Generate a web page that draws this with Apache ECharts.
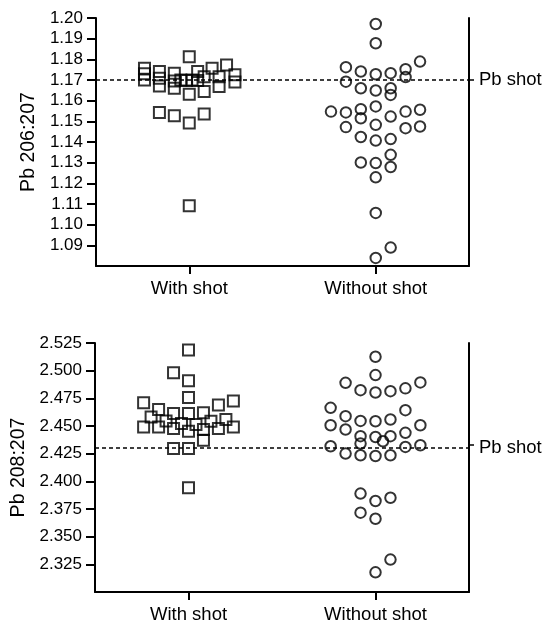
<!DOCTYPE html>
<html>
<head>
<meta charset="utf-8">
<script src="https://cdn.jsdelivr.net/npm/echarts@6/dist/echarts.min.js"></script>
<style>
html,body{margin:0;padding:0;background:#fff;}
#chart{width:555px;height:624px;}
</style>
</head>
<body>
<div id="chart"></div>
<script>
// Categories and their positions on the hidden value x-axis
var categories = ['With shot', 'Without shot'];
var categoryPos = [1, 3];

// Tick labels
var ticks206 = [1.09, 1.10, 1.11, 1.12, 1.13, 1.14, 1.15, 1.16, 1.17, 1.18, 1.19, 1.20];
var ticks208 = [2.325, 2.350, 2.375, 2.400, 2.425, 2.450, 2.475, 2.500, 2.525];

// Reference lines (Pb shot)
var pbShot206 = 1.170;
var pbShot208 = 2.433;

// Pb 206:207 - with shot: values and horizontal spread offsets
var with206 = [1.1757, 1.1730, 1.1700, 1.1741, 1.1708, 1.1671, 1.1733, 1.1695, 1.1660,
  1.1700, 1.1698, 1.1700, 1.1698, 1.1813, 1.1631, 1.1741, 1.1716, 1.1644, 1.1757,
  1.1716, 1.1668, 1.1773, 1.1725, 1.1690, 1.1543, 1.1527, 1.1492, 1.1536, 1.1092];
var with206X = [-0.48, -0.48, -0.48, -0.32, -0.32, -0.32, -0.16, -0.16, -0.16,
  -0.09, -0.03, 0.03, 0.09, 0, 0, 0.09, 0.16, 0.16, 0.245,
  0.32, 0.32, 0.40, 0.49, 0.49, -0.32, -0.16, 0, 0.16, 0];

// Pb 206:207 - without shot
var without206 = [1.1971, 1.1878, 1.1789, 1.1762, 1.1741, 1.1728, 1.1733, 1.1752, 1.1714,
  1.1692, 1.1660, 1.1649, 1.1660, 1.1628, 1.1547, 1.1543, 1.1559, 1.1515, 1.1572,
  1.1523, 1.1547, 1.1556, 1.1472, 1.1483, 1.1467, 1.1475, 1.1424, 1.1407, 1.1414,
  1.1338, 1.1301, 1.1298, 1.1279, 1.1229, 1.1057, 1.0889, 1.0839];
var without206X = [0, 0, 0.475, -0.32, -0.16, 0, 0.16, 0.32, 0.32,
  -0.32, -0.16, 0, 0.16, 0.16, -0.48, -0.32, -0.16, -0.16, 0,
  0.16, 0.32, 0.475, -0.32, 0, 0.32, 0.475, -0.16, 0, 0.16,
  0.16, -0.16, 0, 0.16, 0, 0, 0.16, 0];

// Pb 208:207 - with shot
var with208 = [2.5187, 2.4981, 2.4909, 2.4758, 2.4709, 2.4649, 2.4613, 2.4613, 2.4619,
  2.4690, 2.4727, 2.4582, 2.4546, 2.4522, 2.4513, 2.4543, 2.4558, 2.4492, 2.4492,
  2.4477, 2.4453, 2.4468, 2.4477, 2.4492, 2.4371, 2.4296, 2.4296, 2.3943];
var with208X = [0, -0.16, 0, 0, -0.48, -0.32, -0.16, 0, 0.16,
  0.32, 0.48, -0.40, -0.24, -0.075, 0.08, 0.24, 0.40, -0.48, -0.32,
  -0.16, 0, 0.16, 0.32, 0.48, 0.16, -0.16, 0, 0];

// Pb 208:207 - without shot
var without208 = [2.5126, 2.4960, 2.4890, 2.4824, 2.4803, 2.4815, 2.4840, 2.4894, 2.4664,
  2.4589, 2.4546, 2.4543, 2.4559, 2.4643, 2.4507, 2.4468, 2.4507, 2.4408, 2.4401,
  2.4408, 2.4438, 2.4362, 2.4317, 2.4341, 2.4311, 2.4326, 2.4251, 2.4236, 2.4229,
  2.4236, 2.3889, 2.3852, 2.3822, 2.3717, 2.3662, 2.3293, 2.3178];
var without208X = [0, 0, -0.32, -0.16, 0, 0.16, 0.32, 0.48, -0.48,
  -0.32, -0.16, 0, 0.16, 0.32, -0.48, -0.32, 0.48, -0.16, 0,
  0.16, 0.32, 0.08, -0.48, -0.16, 0.32, 0.48, -0.32, -0.16, 0,
  0.16, -0.16, 0.16, 0, -0.16, 0, 0.16, 0];

function pts(vals, offs, center) {
  return vals.map(function (v, i) { return [center + offs[i], v]; });
}

var FONT = 'Liberation Sans, Arial, sans-serif';
var FS = 17;
var FS_CAT = 18.5;
var black = '#000';

function xAxisDef(gridIndex) {
  return {
    type: 'value', gridIndex: gridIndex, min: 0, max: 4, interval: 1,
    splitLine: { show: false },
    axisLine: { show: true, lineStyle: { color: black, width: 2 } },
    axisTick: { show: true, customValues: categoryPos, length: 8, lineStyle: { color: black, width: 2 } },
    axisLabel: {
      customValues: categoryPos, margin: 13, color: black, fontSize: FS_CAT, fontFamily: FONT,
      formatter: function (v) { var i = categoryPos.indexOf(v); return i >= 0 ? categories[i] : ''; }
    }
  };
}

function yAxisDef(gridIndex, min, max, interval, tickVals, digits, name, nameGap) {
  return {
    type: 'value', gridIndex: gridIndex, min: min, max: max, interval: interval,
    name: name, nameLocation: 'middle', nameGap: nameGap,
    nameTextStyle: { color: black, fontSize: 19.5, fontFamily: FONT },
    splitLine: { show: false },
    axisLine: { show: true, lineStyle: { color: black, width: 2 } },
    axisTick: { show: true, customValues: tickVals, length: 9, lineStyle: { color: black, width: 2 } },
    axisLabel: {
      customValues: tickVals, margin: 13, color: black, fontSize: FS, fontFamily: FONT,
      formatter: function (v) { return Number(v).toFixed(digits); }
    }
  };
}

function rightAxisDef(gridIndex, min, max, pb) {
  return {
    type: 'value', gridIndex: gridIndex, position: 'right', min: min, max: max,
    splitLine: { show: false },
    axisLine: { show: true, onZero: false, lineStyle: { color: black, width: 2 } },
    axisTick: { show: true, customValues: [pb], length: 5, lineStyle: { color: black, width: 1.5 } },
    axisLabel: { show: false }
  };
}

function refLine(val) {
  return {
    silent: true, symbol: 'none', animation: false,
    lineStyle: { color: black, width: 1.6, type: [4, 3] },
    label: { show: true, position: 'end', distance: 10, formatter: 'Pb shot', color: black, fontSize: FS_CAT, fontFamily: FONT },
    data: [{ yAxis: val }]
  };
}

var squareStyle = { color: 'rgba(0,0,0,0)', borderColor: black, borderWidth: 2 };
var circleStyle = { color: 'rgba(0,0,0,0)', borderColor: black, borderWidth: 2 };

var chart = echarts.init(document.getElementById('chart'), null, { renderer: 'canvas' });
chart.setOption({
  animation: false,
  backgroundColor: '#fff',
  grid: [
    { left: 96, top: 18, width: 373, height: 248 },
    { left: 95, top: 343, width: 374, height: 249 }
  ],
  xAxis: [xAxisDef(0), xAxisDef(1)],
  yAxis: [
    yAxisDef(0, 1.08, 1.20, 0.01, ticks206, 2, 'Pb 206:207', 53),
    yAxisDef(1, 2.300, 2.525, 0.025, ticks208, 3, 'Pb 208:207', 64),
    rightAxisDef(0, 1.08, 1.20, pbShot206),
    rightAxisDef(1, 2.300, 2.525, pbShot208)
  ],
  series: [
    { type: 'scatter', xAxisIndex: 0, yAxisIndex: 0, symbol: 'rect', symbolSize: 11,
      itemStyle: squareStyle, data: pts(with206, with206X, categoryPos[0]), markLine: refLine(pbShot206) },
    { type: 'scatter', xAxisIndex: 0, yAxisIndex: 0, symbol: 'circle', symbolSize: 10.5,
      itemStyle: circleStyle, data: pts(without206, without206X, categoryPos[1]) },
    { type: 'scatter', xAxisIndex: 1, yAxisIndex: 1, symbol: 'rect', symbolSize: 11,
      itemStyle: squareStyle, data: pts(with208, with208X, categoryPos[0]), markLine: refLine(pbShot208) },
    { type: 'scatter', xAxisIndex: 1, yAxisIndex: 1, symbol: 'circle', symbolSize: 10.5,
      itemStyle: circleStyle, data: pts(without208, without208X, categoryPos[1]) }
  ]
});
</script>
</body>
</html>
